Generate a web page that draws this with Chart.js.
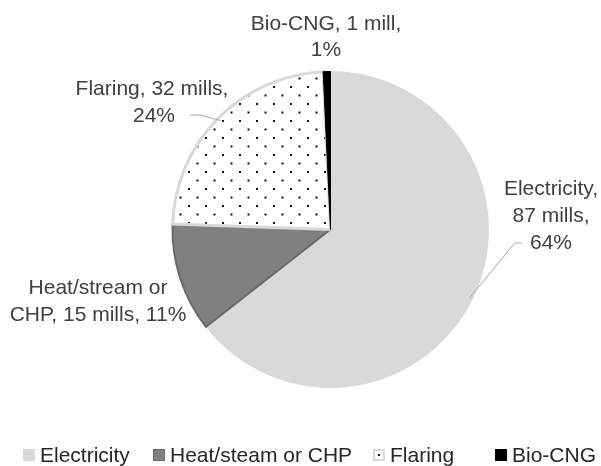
<!DOCTYPE html>
<html><head><meta charset="utf-8">
<script src="https://cdn.jsdelivr.net/npm/chart.js@4"></script>
<style>html,body{margin:0;padding:0;background:#fff}#wrap{width:601px;height:466px;position:relative}</style>
</head><body><div id="wrap"><canvas id="c" width="601" height="466"></canvas></div>
<script>
// ---- data ----
const categories = ['Electricity', 'Heat/steam or CHP', 'Flaring', 'Bio-CNG'];
const sliceNames = ['Electricity', 'Heat/stream or CHP', 'Flaring', 'Bio-CNG'];
const mills = [87, 15, 32, 1];

const total = mills.reduce((a, b) => a + b, 0);
const pct = mills.map(v => Math.round(v / total * 100));
const unit = v => (v === 1 ? 'mill' : 'mills');

// label text lines (wrapped as in the reference)
const labelLines = [
  [sliceNames[0] + ',', mills[0] + ' ' + unit(mills[0]) + ',', pct[0] + '%'],
  ['Heat/stream or', 'CHP, ' + mills[1] + ' ' + unit(mills[1]) + ', ' + pct[1] + '%'],
  [sliceNames[2] + ', ' + mills[2] + ' ' + unit(mills[2]) + ',', pct[2] + '%'],
  [sliceNames[3] + ', ' + mills[3] + ' ' + unit(mills[3]) + ',', pct[3] + '%']
];

// ---- styles ----
function dotPattern() {
  const c = document.createElement('canvas');
  c.width = 17; c.height = 17;
  const g = c.getContext('2d');
  g.fillStyle = '#fff'; g.fillRect(0, 0, 17, 17);
  g.fillStyle = '#111';
  g.fillRect(1, 1, 2, 2);
  g.fillRect(9.5, 9.5, 2, 2);
  return g.createPattern(c, 'repeat');
}
const pat = dotPattern();
const fills = ['#d9d9d9', '#808080', pat, '#000000'];
const borders = ['#d9d9d9', '#6a6a6a', '#d9d9d9', '#000000'];
const borderWidths = [1, 2, 3, 1];
const textColor = '#404040';
const FONT = '"Liberation Sans", Arial, sans-serif';

// label placement (centre x, centre y of each line) and leader anchors
const labelPos = [
  { x: 551, y: [189, 216, 243], leader: [[522, 243], [515, 243]] },
  { x: 98, y: [288, 315], leader: null },
  { x: 152, y: [89, 116], xs: [152, 154], leader: [[190, 115], [200, 115]] },
  { x: 326, y: [24, 50], leader: null }
];

const labelPlugin = {
  id: 'sliceLabels',
  afterDatasetsDraw(chart) {
    const ctx = chart.ctx;
    const meta = chart.getDatasetMeta(0);
    ctx.save();
    ctx.font = '21px ' + FONT;
    ctx.fillStyle = textColor;
    ctx.textAlign = 'center';
    ctx.textBaseline = 'middle';
    labelLines.forEach((lines, i) => {
      const p = labelPos[i];
      lines.forEach((t, k) => ctx.fillText(t, p.xs ? p.xs[k] : p.x, p.y[k]));
      if (p.leader) {
        const arc = meta.data[i];
        const { x, y, startAngle, endAngle, outerRadius } = arc.getProps(['x', 'y', 'startAngle', 'endAngle', 'outerRadius'], true);
        const mid = (startAngle + endAngle) / 2;
        const ex = x + Math.cos(mid) * (outerRadius - 3);
        const ey = y + Math.sin(mid) * (outerRadius - 3);
        ctx.strokeStyle = '#a6a6a6';
        ctx.lineWidth = 1;
        ctx.beginPath();
        ctx.moveTo(p.leader[0][0], p.leader[0][1]);
        ctx.lineTo(p.leader[1][0], p.leader[1][1]);
        ctx.lineTo(ex, ey);
        ctx.stroke();
      }
    });
    ctx.restore();
  }
};

// legend: box x positions and y
const legendPos = { y: 455, boxX: [23, 153, 373, 495], box: 12, gap: 5 };
const legendPlugin = {
  id: 'customLegend',
  afterDraw(chart) {
    const ctx = chart.ctx;
    ctx.save();
    ctx.font = '21px ' + FONT;
    ctx.textAlign = 'left';
    ctx.textBaseline = 'middle';
    categories.forEach((name, i) => {
      const bx = legendPos.boxX[i], s = legendPos.box, by = legendPos.y - s / 2;
      if (i === 2) {
        ctx.fillStyle = '#fff';
        ctx.fillRect(bx, by, s, s);
        ctx.strokeStyle = '#d9d9d9'; ctx.lineWidth = 2;
        ctx.strokeRect(bx + 1, by + 1, s - 2, s - 2);
        ctx.fillStyle = '#111';
        ctx.fillRect(bx + s / 2 - 1, by + s / 2 - 1, 2, 2);
      } else {
        ctx.fillStyle = fills[i];
        ctx.fillRect(bx, by, s, s);
        if (i === 1) { ctx.strokeStyle = borders[1]; ctx.lineWidth = 1; ctx.strokeRect(bx + 0.5, by + 0.5, s - 1, s - 1); }
      }
      ctx.fillStyle = '#262626';
      ctx.fillText(name, bx + s + legendPos.gap, legendPos.y + 1);
    });
    ctx.restore();
  }
};

new Chart(document.getElementById('c'), {
  type: 'pie',
  data: {
    labels: categories,
    datasets: [{
      data: mills,
      backgroundColor: fills,
      borderColor: borders,
      borderWidth: borderWidths,
      borderJoinStyle: 'miter'
    }]
  },
  options: {
    responsive: false,
    animation: false,
    layout: { padding: { top: 70, bottom: 77, left: 171, right: 111 } },
    plugins: { legend: { display: false }, tooltip: { enabled: false } }
  },
  plugins: [labelPlugin, legendPlugin]
});
</script></body></html>
